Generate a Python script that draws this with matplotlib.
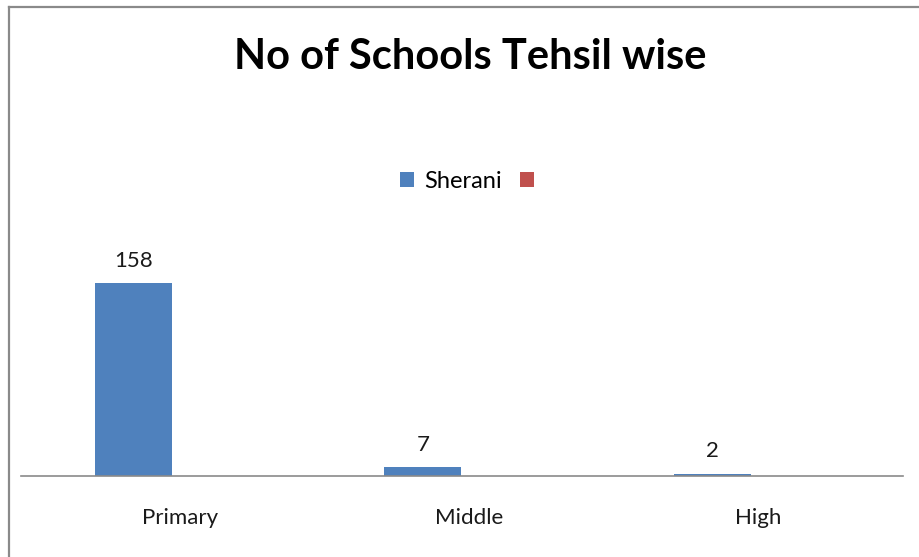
import matplotlib.pyplot as plt
from matplotlib.patches import Patch
from matplotlib.lines import Line2D
import numpy as np

# Data
categories = ['Primary', 'Middle', 'High']
sherani = [158, 7, 2]
series_names = ['Sherani', '']
series_colors = ['#4F81BD', '#C0504D']

plt.rcParams['font.family'] = ['Lato', 'DejaVu Sans']

W, H = 920, 557
fig = plt.figure(figsize=(W / 100, H / 100), dpi=100)

# chart frame (grey border, cut off at right/bottom)
fig.add_artist(Line2D([9.5 / W, 9.5 / W], [0, 1 - 6.5 / H], color='#8a8a8a', lw=1.6))
fig.add_artist(Line2D([9.5 / W, 1], [1 - 6.5 / H, 1 - 6.5 / H], color='#8a8a8a', lw=1.6))

ymax = 180
px_per_unit = (476 - 283) / 158
ax = fig.add_axes([21 / W, (H - 476) / H, (903 - 21) / W, ymax * px_per_unit / H])

x = np.arange(len(categories))
bar_w = 0.266
ax.bar(x - 0.16, sherani, width=bar_w, color=series_colors[0])

for xi, v in zip(x, sherani):
    ax.text(xi - 0.16, v + 10, str(v), ha='center', va='bottom', fontsize=16, color='#1a1a1a')

ax.set_xlim(-0.55, 2.5)
ax.set_ylim(0, ymax)
ax.set_yticks([])
ax.set_xticks(x)
ax.set_xticklabels(categories, fontsize=16, color='#1a1a1a')
ax.tick_params(axis='x', length=0, pad=23)
for s in ['top', 'right', 'left']:
    ax.spines[s].set_visible(False)
ax.spines['bottom'].set_color('#8a8a8a')
ax.spines['bottom'].set_linewidth(1.2)

fig.text(470 / W, 1 - 57 / H, 'No of Schools Tehsil wise', ha='center', va='center',
         fontsize=30, fontweight='bold', color='black')

handles = [Patch(facecolor=c, edgecolor='none') for c in series_colors]
fig.legend(handles, series_names, loc='center', bbox_to_anchor=(472 / W, 1 - 181 / H),
           ncol=2, frameon=False, fontsize=17, handlelength=0.6, handleheight=0.6,
           handletextpad=0.4, columnspacing=0.8)

fig.savefig('out.png', dpi=100)
